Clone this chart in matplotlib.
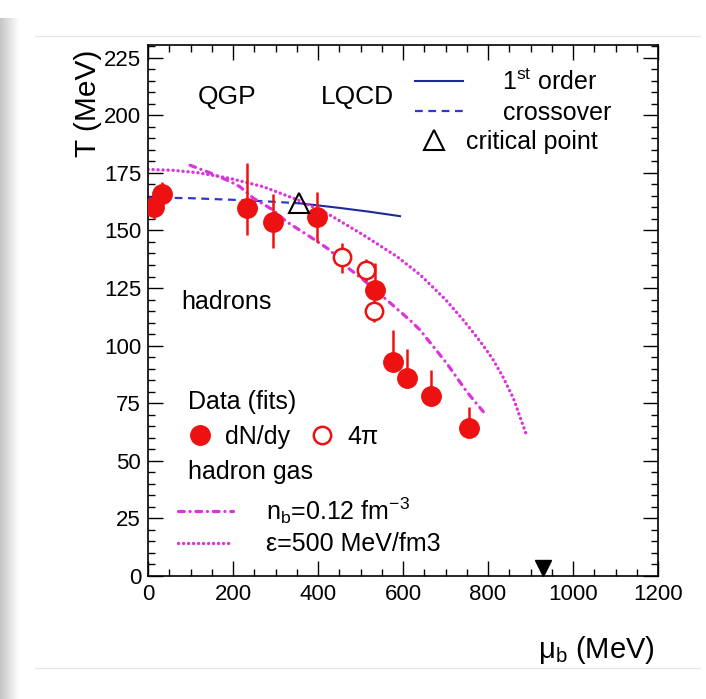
import matplotlib
matplotlib.use("Agg")
import matplotlib.pyplot as plt
from matplotlib.lines import Line2D
from matplotlib.ticker import MultipleLocator
import numpy as np

plt.rcParams['font.family'] = ['Liberation Sans', 'DejaVu Sans']
plt.rcParams['mathtext.fontset'] = 'custom'
plt.rcParams['mathtext.rm'] = 'Liberation Sans'
plt.rcParams['mathtext.it'] = 'Liberation Sans:italic'
plt.rcParams['mathtext.bf'] = 'Liberation Sans:bold'

# ---------------- data ----------------
# thermal fits to dN/dy yields (filled)
dndy_mu = [14, 32, 234, 293, 397, 534, 577, 609, 665, 756]
dndy_T = [160.3, 165.7, 159.6, 153.8, 156.0, 124.1, 93.0, 86.0, 78.1, 64.1]
dndy_T_lo = [5.5, 5.0, 11.6, 11.6, 10.9, 4.0, 2.0, 2.0, 2.0, 2.0]
dndy_T_hi = [4.0, 5.3, 19.5, 12.0, 10.8, 11.6, 13.8, 12.5, 11.3, 9.1]
dndy_mu_err = [0, 0, 23, 20, 20, 0, 0, 0, 0, 12]

# thermal fits to 4pi yields (open)
fpi_mu = [456, 513, 532]
fpi_T = [138.6, 132.8, 115.0]
fpi_T_lo = [7.0, 4.7, 4.6]
fpi_T_hi = [6.1, 4.7, 4.6]

# lattice QCD phase boundary
xover_mu = [0, 100, 200, 280, 356]
xover_T = [164.3, 164.0, 163.3, 162.6, 161.8]
first_mu = [356, 450, 522, 593]
first_T = [161.8, 159.8, 158.1, 156.2]
crit_mu = [356]
crit_T = [162.0]

# hadron gas curves
nb_mu = [99, 146, 193, 216, 248, 294, 326, 381, 428, 467, 507, 562, 616, 640, 703, 750, 789]
nb_T = [178.3, 175.0, 171.3, 169.0, 164.0, 158.9, 153.8, 147.3, 141.5, 134.3, 128.5,
        119.8, 111.1, 106.8, 92.3, 80.0, 71.3]
eps_mu = [0, 60, 120, 193, 271, 356, 428, 507, 587, 640, 700, 740, 781, 810, 835, 860, 889]
eps_T = [176.5, 176.1, 175.0, 172.6, 169.0, 163.0, 156.7, 148.0, 138.5, 130.8, 120.0,
         111.5, 102.0, 94.5, 86.5, 77.0, 62.0]

# nuclear matter ground state
nm_mu = [930]
nm_T = [3.5]

# ---------------- figure ----------------
W, H = 706, 699
fig = plt.figure(figsize=(W / 100, H / 100), dpi=100)

# page decoration (shadow band + faint rules)
band = fig.add_axes([0, 0, 20 / W, (H - 18) / H])
grad = np.linspace(0.78, 1.0, 20).reshape(1, -1)
band.imshow(np.dstack([grad, grad, grad]), aspect='auto', extent=[0, 1, 0, 1])
band.axis('off')
for yy in (36, 668):
    fig.add_artist(Line2D([35 / W, 700 / W], [1 - yy / H, 1 - yy / H],
                          transform=fig.transFigure, color='#e6e6e6', lw=0.8))

L, R, T, B = 148, 658, 45, 576
ax = fig.add_axes([L / W, 1 - B / H, (R - L) / W, (B - T) / H])


def px(x, y):
    return ((x - L) / (R - L), (B - y) / (B - T))


RED = '#ee1111'
BLUE1 = '#1c2a9c'
BLUE2 = '#3535cc'
MAG = '#dd33dd'

ln_x, = ax.plot(xover_mu, xover_T, color=BLUE2, lw=1.6, ls=(0, (3.5, 2.5)))
ln_1, = ax.plot(first_mu, first_T, color=BLUE1, lw=1.5)
ln_nb, = ax.plot(nb_mu, nb_T, color=MAG, lw=2.3, ls=(0, (1.8, 1.8, 0.05, 1.8)),
                 dash_capstyle='round')
ln_eps, = ax.plot(eps_mu, eps_T, color=MAG, lw=2.4, ls=(0, (0.05, 1.45)),
                  dash_capstyle='round')

eb1 = ax.errorbar(dndy_mu, dndy_T, yerr=[dndy_T_lo, dndy_T_hi], xerr=dndy_mu_err,
                  fmt='o', color=RED, ms=14, elinewidth=1.8, capsize=0, zorder=5)
eb2 = ax.errorbar(fpi_mu, fpi_T, yerr=[fpi_T_lo, fpi_T_hi], fmt='o', color=RED,
                  mfc='white', mec=RED, mew=1.8, ms=12.5, elinewidth=1.8, capsize=0, zorder=5)
cp, = ax.plot(crit_mu, crit_T, ls='none', marker='^', ms=14, mfc='none', mec='black',
              mew=1.5, zorder=6)
ax.plot(nm_mu, nm_T, ls='none', marker='v', ms=11, color='black', zorder=6)

ax.set_xlim(0, 1200)
ax.set_ylim(0, 230.5)
ax.set_yticks([0, 25, 50, 75, 100, 125, 150, 175, 200, 225])
ax.xaxis.set_major_locator(MultipleLocator(200))
ax.xaxis.set_minor_locator(MultipleLocator(50))
ax.yaxis.set_minor_locator(MultipleLocator(5))
ax.tick_params(which='both', direction='in', top=True, right=True, labelsize=16, width=1)
ax.tick_params(which='major', length=11)
ax.tick_params(which='minor', length=5)
ax.tick_params(axis='y', pad=5)
ax.tick_params(axis='x', pad=6)
for s in ax.spines.values():
    s.set_linewidth(1.2)

FS = 18
ax.text(*px(88, 50), 'T (MeV)', transform=ax.transAxes, rotation=90, ha='center',
        va='top', fontsize=21.5)
ax.text(*px(655, 650), r'μ$_{\mathrm{b}}$ (MeV)', transform=ax.transAxes, ha='right',
        va='center', fontsize=21)
ax.text(*px(227, 97), 'QGP', transform=ax.transAxes, ha='center', va='center', fontsize=19)
ax.text(*px(357, 97), 'LQCD', transform=ax.transAxes, ha='center', va='center', fontsize=19)
ax.text(*px(226, 302), 'hadrons', transform=ax.transAxes, ha='center', va='center', fontsize=FS)
ax.text(*px(188, 402), 'Data (fits)', transform=ax.transAxes, ha='left', va='center', fontsize=FS)
ax.text(*px(188, 472), 'hadron gas', transform=ax.transAxes, ha='left', va='center', fontsize=FS)

common = dict(frameon=False, borderpad=0, borderaxespad=0, fontsize=FS)
legA = ax.legend([ln_1, ln_x], [r'1$^{\mathrm{st}}$ order', 'crossover'], loc='center left',
                 bbox_to_anchor=px(415, 97), handlelength=1.9, handletextpad=1.6,
                 labelspacing=0.25, **common)
ax.add_artist(legA)
legB = ax.legend([cp], ['critical point'], loc='center left', bbox_to_anchor=px(421, 142),
                 handlelength=1.0, handletextpad=0.8, **common)
ax.add_artist(legB)
legC = ax.legend([eb1[0], eb2[0]], ['dN/dy', '4π'], loc='center left',
                 bbox_to_anchor=px(187, 437), ncol=2, handlelength=1.0, handletextpad=0.5,
                 columnspacing=0.8, **common)
ax.add_artist(legC)
legD = ax.legend([ln_nb, ln_eps], [r'n$_{\mathrm{b}}$=0.12 fm$^{-3}$', 'ε=500 MeV/fm3'],
                 loc='center left', bbox_to_anchor=px(178, 526), handlelength=2.2,
                 handletextpad=1.3, labelspacing=0.25, **common)

fig.savefig('out.png', dpi=100)
